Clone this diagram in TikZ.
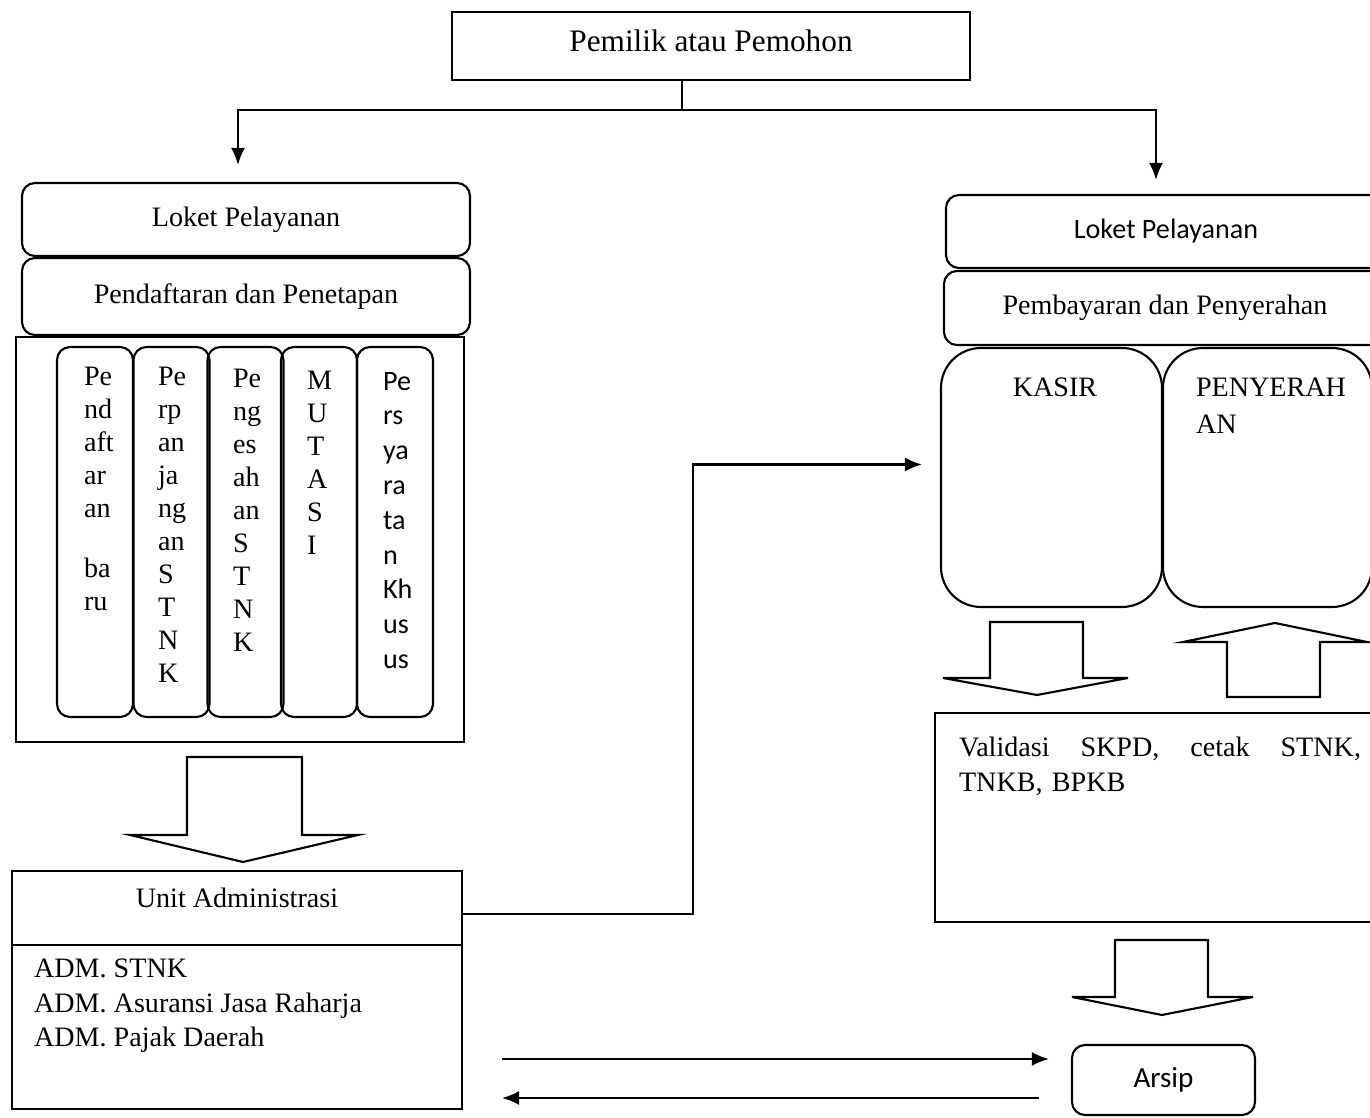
\documentclass[tikz,border=0pt]{standalone}
\usepackage{fontspec}
\setmainfont{Liberation Serif}
\newfontfamily\calibri{Carlito}
\usepackage{tikz}
\usetikzlibrary{arrows.meta,calc}

\begin{document}
\begin{tikzpicture}[>={Latex[length=1.7mm,width=1.4mm]},semithick,
    every node/.style={font=\fontsize{8}{9.4}\selectfont},
    kotak/.style={draw,rectangle,inner sep=0pt},
    bulat/.style={draw,rectangle,rounded corners=0.13cm,inner sep=0pt},
    tulisan/.style={anchor=north west,inner sep=0pt,align=left}]
  \useasboundingbox (0,0) rectangle (13.70,-11.18);
  \clip (0,0) rectangle (13.70,-11.18);

  \node[kotak,minimum width=5.18cm,minimum height=0.68cm] (pemilik) at (7.11,-0.46) {};
  \node[font=\fontsize{8.9}{10}\selectfont] (pemilikteks) at (7.11,-0.41) {Pemilik atau Pemohon};

  % loket kiri
  \node[bulat,minimum width=4.48cm,minimum height=0.73cm] (loketA) at (2.46,-2.195) {Loket Pelayanan};
  \node[bulat,minimum width=4.48cm,minimum height=0.77cm] (daftar) at (2.46,-2.965) {Pendaftaran dan Penetapan};
  \node[kotak,minimum width=4.48cm,minimum height=4.05cm] (layanan) at (2.40,-5.395) {};
  \foreach \x/\n in {0.95/1,1.715/2,2.455/3,3.19/4,3.95/5}
    \node[bulat,minimum width=0.76cm,minimum height=3.70cm] (kol\n) at (\x,-5.32) {};
  \node[tulisan] (teks1) at (0.83,-3.66) {Pe\\nd\\aft\\ar\\an\\[7.5pt]ba\\ru};
  \node[tulisan] (teks2) at (1.57,-3.66) {Pe\\rp\\an\\ja\\ng\\an\\S\\T\\N\\K};
  \node[tulisan] (teks3) at (2.32,-3.68) {Pe\\ng\\es\\ah\\an\\S\\T\\N\\K};
  \node[tulisan] (teks4) at (3.06,-3.70) {M\\U\\T\\A\\S\\I};
  \node[tulisan,font=\calibri\fontsize{8}{9.9}\selectfont] (teks5) at (3.82,-3.71) {Pe\\rs\\ya\\ra\\ta\\n\\Kh\\us\\us};

  \draw (1.87,-7.57) -- (3.02,-7.57) -- (3.02,-8.35) -- (3.58,-8.35) -- (2.43,-8.62) -- (1.30,-8.35) -- (1.87,-8.35) -- cycle;

  \node[kotak,minimum width=4.50cm,minimum height=2.38cm,anchor=north] (unit) at (2.37,-8.70) {};
  \draw (unit.west |- 0,-9.45) -- (unit.east |- 0,-9.45);
  \node (unitteks) at (2.37,-8.98) {Unit Administrasi};
  \node[tulisan,font=\fontsize{8}{9.8}\selectfont] (admteks) at (0.33,-9.58) {ADM. STNK\\ADM. Asuransi Jasa Raharja\\ADM. Pajak Daerah};

  % loket kanan
  \node[bulat,minimum width=4.40cm,minimum height=0.73cm,font=\calibri\fontsize{8}{9.4}\selectfont] (loketB) at (11.66,-2.315) {Loket Pelayanan};
  \node[bulat,minimum width=4.42cm,minimum height=0.74cm] (bayar) at (11.65,-3.08) {Pembayaran dan Penyerahan};
  \node[bulat,rounded corners=0.4cm,minimum width=2.21cm,minimum height=2.59cm] (kasir) at (10.515,-4.775) {};
  \node[bulat,rounded corners=0.4cm,minimum width=2.09cm,minimum height=2.59cm] (serah) at (12.675,-4.775) {};
  \node[inner sep=0pt,anchor=north] (kasirteks) at (10.55,-3.77) {KASIR};
  \node[tulisan,font=\fontsize{8}{10.5}\selectfont] (serahteks) at (11.95,-3.77) {PENYERAH\\AN};

  \draw (9.90,-6.22) -- (10.83,-6.22) -- (10.83,-6.78) -- (11.28,-6.78) -- (10.37,-6.95) -- (9.43,-6.78) -- (9.90,-6.78) -- cycle;
  \draw (12.27,-6.97) -- (13.20,-6.97) -- (13.20,-6.42) -- (13.67,-6.42) -- (12.75,-6.23) -- (11.83,-6.42) -- (12.27,-6.42) -- cycle;

  \node[kotak,minimum width=4.55cm,minimum height=2.09cm] (validasi) at (11.625,-8.175) {};
  \node[tulisan,text width=4.02cm,font=\fontsize{8}{9.9}\selectfont] (validteks) at (9.58,-7.36) {Validasi\hfill SKPD,\hfill cetak\hfill STNK,\\TNKB, BPKB};

  \draw (11.15,-9.40) -- (12.08,-9.40) -- (12.08,-9.97) -- (12.53,-9.97) -- (11.62,-10.15) -- (10.72,-9.97) -- (11.15,-9.97) -- cycle;

  \node[bulat,minimum width=1.83cm,minimum height=0.70cm,font=\calibri\fontsize{8.3}{10}\selectfont] (arsip) at (11.635,-10.80) {Arsip};

  % penghubung
  \coordinate (cabang) at (6.82,-1.10);
  \coordinate (kekasir) at ($(kasir.west)+(-0.18,0.13)$);
  \coordinate (admkanan1) at (5.02,-10.59);
  \coordinate (admkanan2) at (5.02,-10.98);
  \draw (pemilik.south -| cabang) -- (cabang);
  \draw[->,shorten >=0.17cm] (cabang) -| ($(loketA.north)+(-0.08,0)$);
  \draw[->,shorten >=0.14cm] (cabang) -| ($(loketB.north)+(-0.10,0)$);
  \draw[->] (unit.east |- 0,-9.14) -- ++(2.30,0) |- (kekasir);
  \draw[->,shorten >=0.22cm] (admkanan1) -- (arsip.west |- admkanan1);
  \draw[->,shorten <=0.32cm] (arsip.west |- admkanan2) -- (admkanan2);
\end{tikzpicture}
\end{document}
